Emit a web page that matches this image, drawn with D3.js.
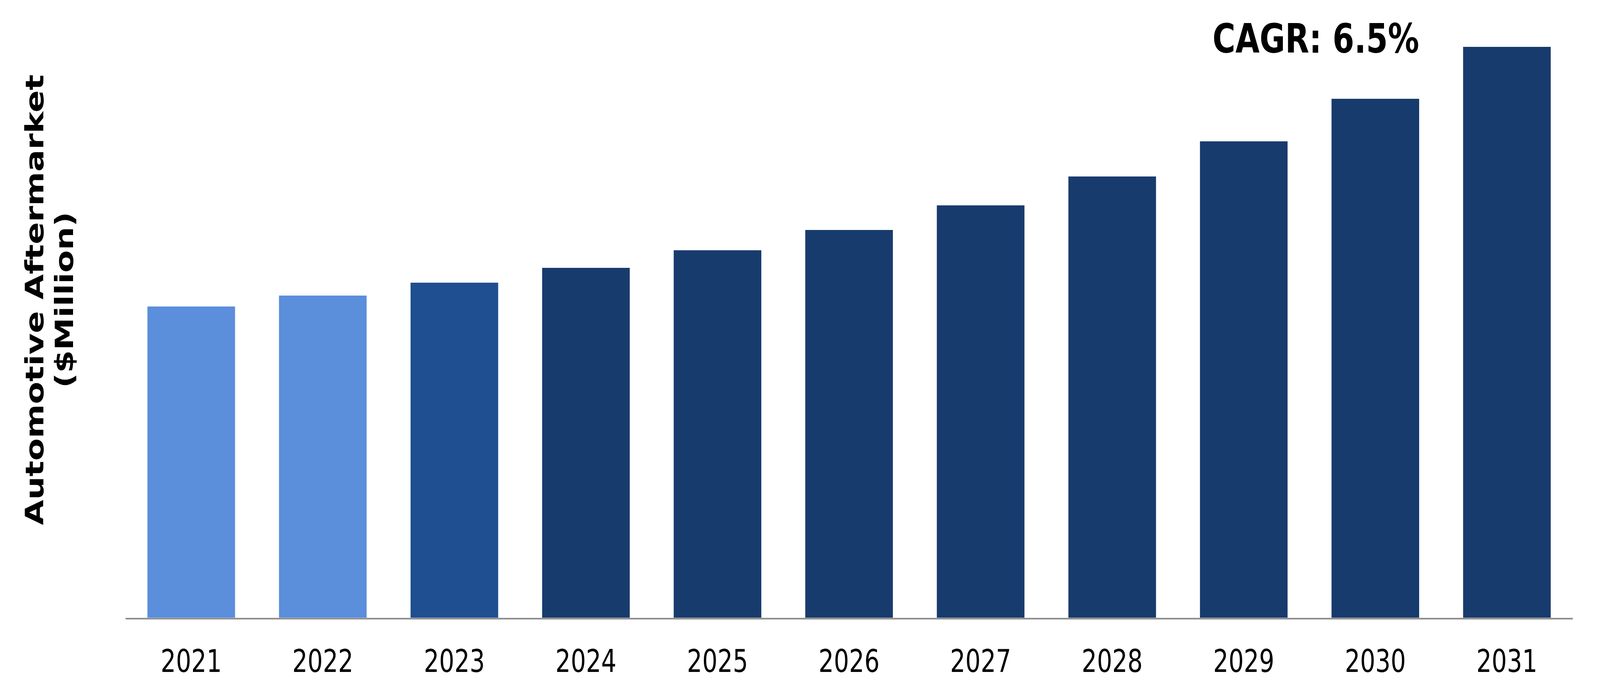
<!DOCTYPE html>
<html>
<head>
<meta charset="utf-8">
<script src="https://cdn.jsdelivr.net/npm/d3@7"></script>
<style>
  html, body { margin: 0; padding: 0; background: #fff; overflow: hidden; width: 100%; height: 100%; }
  svg { display: block; width: 100vw; height: 100vh; font-family: "DejaVu Sans", Verdana, sans-serif; }
</style>
</head>
<body>
<svg id="chart" viewBox="0 0 5331 1757" preserveAspectRatio="none"></svg>
<script>
// values (no y axis in the original, units are relative)
const years = ['2021', '2022', '2023', '2024', '2025', '2026', '2027', '2028', '2029', '2030', '2031'];
const marketValues = [79.7, 82.5, 85.8, 89.6, 94.1, 99.3, 105.6, 113.0, 122.0, 132.9, 146.2];
const barColors = ['#5b8edb', '#5b8edb', '#1f4f91', '#183b6d', '#183b6d', '#183b6d', '#183b6d', '#183b6d', '#183b6d', '#183b6d', '#183b6d'];
const titleLines = ['Automotive Aftermarket', '($Million)'];
const cagrLabel = 'CAGR: 6.5%';

const svg = d3.select('#chart');
const W = 5331, H = 1757;
const margin = { left: 418, right: 91, top: 120, bottom: 175 };
const baseY = H - margin.bottom;

const data = years.map((y, i) => ({ year: y, value: marketValues[i], color: barColors[i] }));

const x = d3.scaleBand()
  .domain(years)
  .range([margin.left, W - margin.right])
  .paddingInner(0.334)
  .paddingOuter(0.167);

const y = d3.scaleLinear()
  .domain([0, d3.max(marketValues)])
  .range([baseY, margin.top]);

// bars
svg.append('g')
  .selectAll('rect')
  .data(data)
  .join('rect')
  .attr('x', d => x(d.year))
  .attr('y', d => y(d.value))
  .attr('width', x.bandwidth())
  .attr('height', d => baseY - y(d.value))
  .attr('fill', d => d.color);

// x axis: grey baseline, no ticks
const xAxis = svg.append('g')
  .attr('transform', `translate(0,${baseY + 2})`)
  .call(d3.axisBottom(x).tickSize(0).tickPadding(80));

xAxis.select('.domain')
  .attr('stroke', '#898989')
  .attr('stroke-width', 4);

xAxis.selectAll('text')
  .attr('font-size', 80)
  .attr('font-family', '"DejaVu Sans", Verdana, sans-serif')
  .attr('fill', '#000')
  .attr('dy', '0.71em');

// rotated y title, two lines
const title = svg.append('text')
  .attr('transform', 'translate(144,768) rotate(-90)')
  .attr('text-anchor', 'middle')
  .attr('font-size', 84)
  .attr('font-weight', 'bold')
  .attr('fill', '#000');

title.selectAll('tspan')
  .data(titleLines)
  .join('tspan')
  .attr('x', 0)
  .attr('dy', (d, i) => i === 0 ? 0 : 100)
  .text(d => d);

// CAGR note
svg.append('text')
  .attr('x', 4040)
  .attr('y', 135)
  .attr('font-size', 104)
  .attr('font-weight', 'bold')
  .attr('fill', '#000')
  .text(cagrLabel);
</script>
</body>
</html>
